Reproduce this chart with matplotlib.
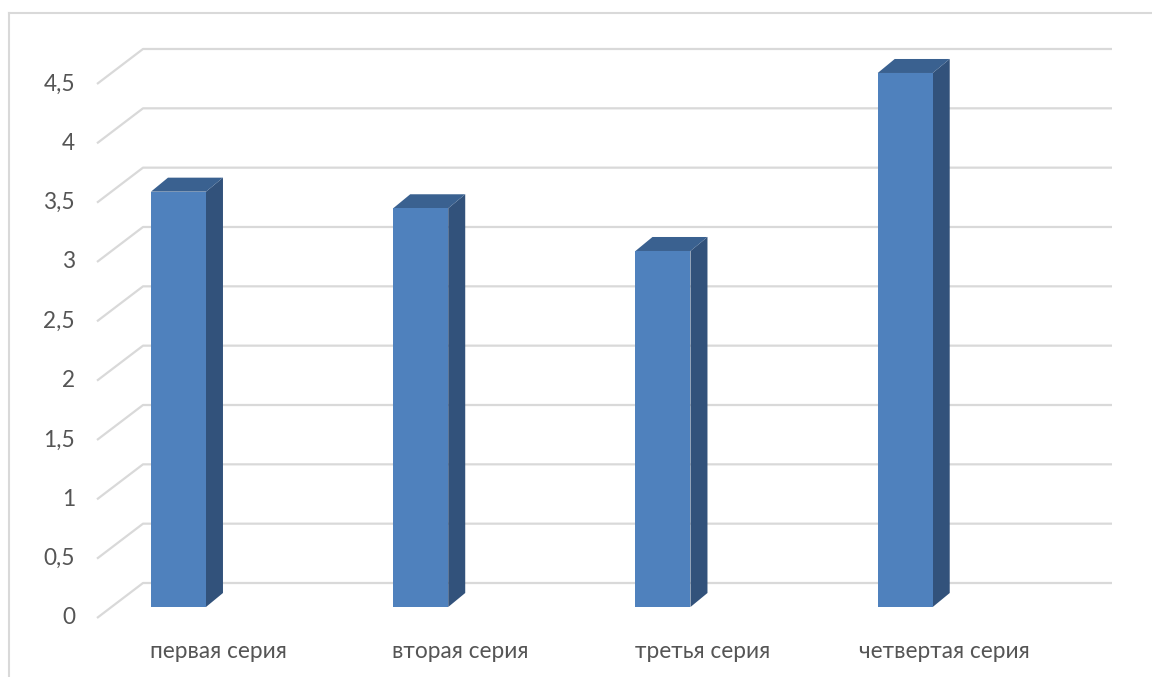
import matplotlib
matplotlib.use("Agg")
import matplotlib.pyplot as plt
from matplotlib.patches import Polygon
from matplotlib.lines import Line2D

categories = ["первая серия", "вторая серия", "третья серия", "четвертая серия"]
values = [3.5, 3.36, 3.0, 4.5]
y_ticks = [0, 0.5, 1, 1.5, 2, 2.5, 3, 3.5, 4, 4.5]
y_tick_labels = ["0", "0,5", "1", "1,5", "2", "2,5", "3", "3,5", "4", "4,5"]

W, H, DPI = 1152, 677, 100
plt.rcParams['font.family'] = ['Lato', 'DejaVu Sans']

fig = plt.figure(figsize=(W / DPI, H / DPI), dpi=DPI)
ax = fig.add_axes([0, 0, 1, 1])
ux, uy = 242.25, 118.67          # pixels per category / per value unit
x0px, y0px = 143, 94             # back-wall origin in pixels (from left / bottom)
ax.set_xlim(-x0px / ux, (W - x0px) / ux)
ax.set_ylim(-y0px / uy, (H - y0px) / uy)
ax.axis('off')

grid_c = '#d9d9d9'
text_c = '#555555'
front_c = '#4f81bd'
side_c = '#32527b'
top_c = '#3a6190'

# offsets (data units)
fdx, fdy = -46 / ux, -35 / uy    # front plane of the floor
bdx, bdy = -32 / ux, -24 / uy    # front face of the bars
ddx, ddy = 17 / ux, 14 / uy      # bar depth
n = len(categories)

# gridlines: diagonal on side wall + horizontal on back wall
for v, lab in zip(y_ticks, y_tick_labels):
    ax.plot([fdx, 0, n], [v + fdy, v, v], color=grid_c, lw=1.6,
            solid_capstyle='butt', zorder=1)
    ax.text(fdx - 22 / ux, v + fdy, lab, ha='right', va='center',
            fontsize=16.3, color=text_c)

# bars
bw = 55 / ux
lefts = [i + 0.165 + bdx for i in range(n)]
ax.bar(lefts, values, width=bw, bottom=bdy, align='edge', color=front_c,
       linewidth=0, zorder=3)
for l, v in zip(lefts, values):
    r = l + bw
    b = bdy
    t = v + bdy
    ax.add_patch(Polygon([(r, b), (r + ddx, b + ddy), (r + ddx, t + ddy), (r, t)],
                         closed=True, facecolor=side_c, edgecolor='none', zorder=2.9))
    ax.add_patch(Polygon([(l, t), (l + ddx, t + ddy), (r + ddx, t + ddy), (r, t)],
                         closed=True, facecolor=top_c, edgecolor='none', zorder=2.9))

# category labels
for i, c in enumerate(categories):
    ax.text(i + 0.31, -0.581, c, ha='center', va='center', fontsize=16.3,
            color=text_c)

# chart border (top and left visible)
fig.add_artist(Line2D([9 / W, 9 / W], [0, 1 - 13 / H], transform=fig.transFigure,
                      color=grid_c, lw=1.5))
fig.add_artist(Line2D([9 / W, 1], [1 - 13 / H, 1 - 13 / H], transform=fig.transFigure,
                      color=grid_c, lw=1.5))

fig.savefig('out.png', dpi=DPI)
